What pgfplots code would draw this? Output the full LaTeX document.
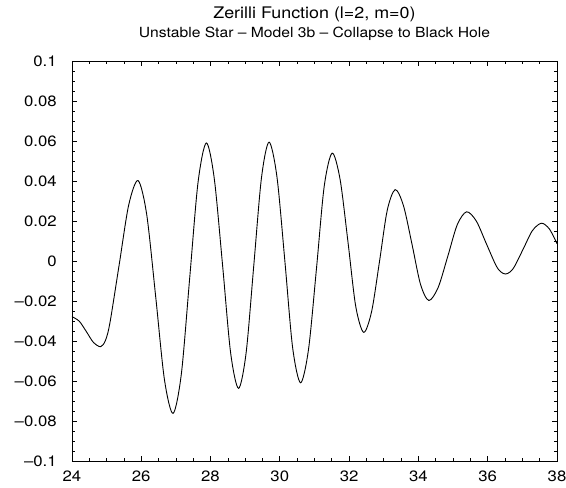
\documentclass[border=0pt]{standalone}
\usepackage{fontspec}
\setmainfont{TeX Gyre Heros}[FakeStretch=1.12]
\usepackage{pgfplots}
\pgfplotsset{compat=1.18}
\begin{document}
\begin{tikzpicture}
\useasboundingbox (-72pt,-26pt) rectangle (495pt,462pt);
\begin{axis}[
	at={(0pt,0pt)},anchor=south west,
	scale only axis,width=486pt,height=401pt,
	xmin=24,xmax=38,ymin=-0.1,ymax=0.1,
	xtick={24,26,28,30,32,34,36,38},
	ytick={-0.1,-0.08,-0.06,-0.04,-0.02,0,0.02,0.04,0.06,0.08,0.1},
	yticklabels={–0.1,–0.08,–0.06,–0.04,–0.02,0,0.02,0.04,0.06,0.08,0.1},
	minor x tick num=3,minor y tick num=3,
	tick align=inside,major tick length=5pt,minor tick length=3pt,
	tick style={black,line width=0.6pt},
	axis line style={line width=0.7pt},
	tick label style={font=\fontsize{15}{15}\selectfont},
	/pgf/number format/assume math mode=true,
	xticklabel style={anchor=base,yshift=-20.5pt},
	yticklabel style={anchor=east,inner sep=0pt,xshift=-15pt},
	]
\addplot[black,line width=0.9pt,smooth] coordinates {
	(24.00,-0.0278) (24.21,-0.0300) (24.42,-0.0353) (24.62,-0.0406)
	(24.83,-0.0428) (24.97,-0.0396) (25.10,-0.0307) (25.37,-0.0013) (25.64,0.0280)
	(25.91,0.0402) (26.16,0.0232) (26.42,-0.0180) (26.67,-0.0591)
	(26.92,-0.0761) (27.16,-0.0563) (27.40,-0.0085) (27.64,0.0392)
	(27.88,0.0590) (28.11,0.0411) (28.35,-0.0023) (28.58,-0.0457)
	(28.81,-0.0636) (29.03,-0.0456) (29.25,-0.0021) (29.47,0.0414)
	(29.69,0.0594) (29.92,0.0418) (30.15,-0.0007) (30.37,-0.0432)
	(30.60,-0.0608) (30.83,-0.0440) (31.06,-0.0035) (31.28,0.0371)
	(31.51,0.0539) (31.74,0.0408) (31.97,0.0092) (32.19,-0.0225)
	(32.42,-0.0356) (32.65,-0.0252) (32.88,0.0001) (33.10,0.0253)
	(33.33,0.0357) (33.57,0.0276) (33.82,0.0080) (34.06,-0.0116)
	(34.30,-0.0197) (34.57,-0.0132) (34.85,0.0025) (35.12,0.0181)
	(35.39,0.0246) (35.67,0.0200) (35.95,0.0091) (36.23,-0.0019) (36.37,-0.0053)
	(36.51,-0.0065) (36.64,-0.0055) (36.77,-0.0028) (37.03,0.0062) (37.29,0.0152)
	(37.55,0.0189) (37.78,0.0160) (38.00,0.0087)
};
\end{axis}
\node[anchor=base,font=\fontsize{16}{16}\selectfont] at (243pt,443pt) {Zerilli Function (l=2, m=0)};
\node[anchor=base,font=\fontsize{14}{14}\selectfont] at (243pt,424.5pt) {Unstable Star – Model 3b – Collapse to Black Hole};
\end{tikzpicture}
\end{document}
